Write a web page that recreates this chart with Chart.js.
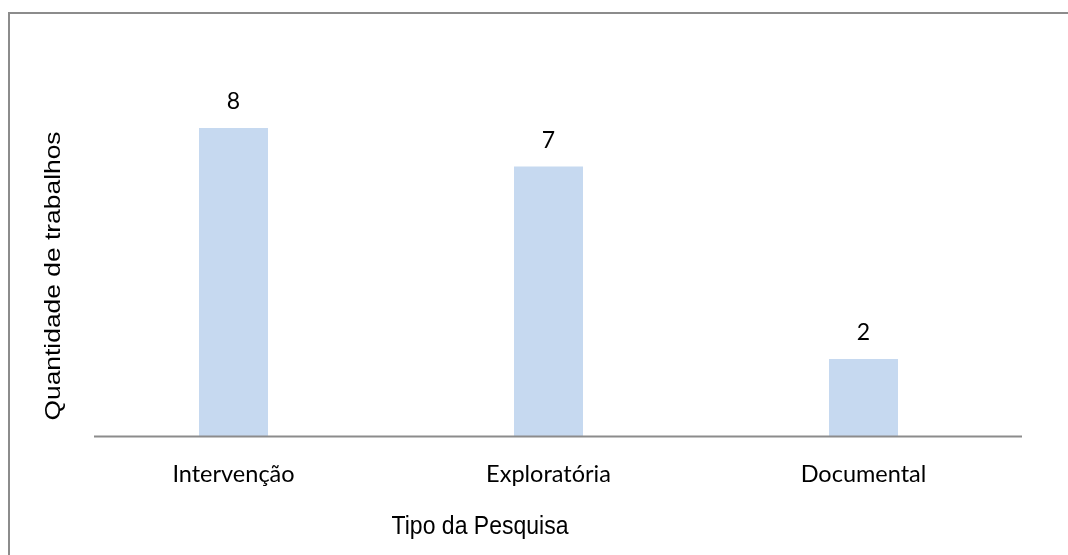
<!DOCTYPE html>
<html>
<head>
<meta charset="utf-8">
<script src="https://cdn.jsdelivr.net/npm/chart.js@4.4.1/dist/chart.umd.min.js"></script>
<style>
  html, body { margin: 0; padding: 0; background: #fff; overflow: hidden; }
  canvas { display: block; }
</style>
</head>
<body>
<canvas id="c" width="1068" height="555"></canvas>
<script>
// Number of studies per research type
const categories = ['Intervenção', 'Exploratória', 'Documental'];
const quantities = [8, 7, 2];
const axisTitleX = 'Tipo da Pesquisa';
const axisTitleY = 'Quantidade de trabalhos';
const yMin = 0;
const yMax = 10;

const BAR_COLOR = 'rgb(198,217,240)';
const LINE_COLOR = '#8c8c8c';

// Outer frame, value labels above bars, baseline and axis titles
const decorations = {
  id: 'decorations',
  beforeDraw(chart) {
    const ctx = chart.ctx;
    ctx.save();
    ctx.fillStyle = '#fff';
    ctx.fillRect(0, 0, chart.width, chart.height);
    ctx.strokeStyle = LINE_COLOR;
    ctx.lineWidth = 2;
    ctx.beginPath();
    ctx.moveTo(9, chart.height + 5);
    ctx.lineTo(9, 13);
    ctx.lineTo(chart.width + 5, 13);
    ctx.stroke();
    ctx.restore();
  },
  afterDatasetsDraw(chart) {
    const ctx = chart.ctx;
    const area = chart.chartArea;
    const yScale = chart.scales.y;
    const base = yScale.getPixelForValue(0);
    ctx.save();

    // baseline
    ctx.strokeStyle = LINE_COLOR;
    ctx.lineWidth = 2;
    ctx.beginPath();
    ctx.moveTo(area.left + 18, base + 0.5);
    ctx.lineTo(area.right + 1, base + 0.5);
    ctx.stroke();

    // value labels
    const meta = chart.getDatasetMeta(0);
    ctx.fillStyle = '#000';
    ctx.font = '23px Lato, "Open Sans", sans-serif';
    ctx.textAlign = 'center';
    ctx.textBaseline = 'middle';
    meta.data.forEach((bar, i) => {
      ctx.fillText(String(quantities[i]), bar.x, bar.y - 26);
    });

    // axis titles
    ctx.save();
    ctx.font = '23px "Liberation Sans", Arial, sans-serif';
    ctx.translate(480, 527);
    ctx.scale(1, 1.15);
    ctx.fillText(axisTitleX, 0, 0);
    ctx.restore();

    ctx.save();
    ctx.font = '22px "Liberation Sans", Arial, sans-serif';
    ctx.translate(54, 276);
    ctx.rotate(-Math.PI / 2);
    ctx.scale(1.2, 1);
    ctx.fillText(axisTitleY, 0, 0);
    ctx.restore();

    ctx.restore();
  }
};

new Chart(document.getElementById('c'), {
  type: 'bar',
  data: {
    labels: categories,
    datasets: [{
      data: quantities,
      backgroundColor: BAR_COLOR,
      borderWidth: 0,
      categoryPercentage: 1,
      barPercentage: 0.219
    }]
  },
  options: {
    responsive: false,
    animation: false,
    devicePixelRatio: 1,
    layout: { padding: { left: 0, right: 47, top: 51, bottom: 0 } },
    plugins: {
      legend: { display: false },
      title: { display: false },
      tooltip: { enabled: false }
    },
    scales: {
      x: {
        grid: { display: false, drawTicks: false },
        border: { display: false },
        ticks: {
          color: '#000',
          font: { family: 'Lato, "Open Sans", sans-serif', size: 23.5 },
          padding: 24,
          maxRotation: 0
        },
        afterFit(scale) { scale.height = 119; }
      },
      y: {
        min: yMin,
        max: yMax,
        grid: { display: false, drawTicks: false },
        border: { display: false },
        ticks: { display: false },
        afterFit(scale) { scale.width = 76; }
      }
    }
  },
  plugins: [decorations]
});
</script>
</body>
</html>
